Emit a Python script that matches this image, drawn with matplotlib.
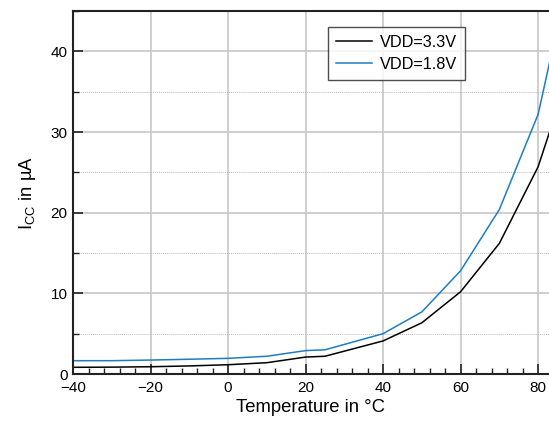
import matplotlib
matplotlib.use("Agg")
import matplotlib.pyplot as plt
from matplotlib.ticker import MultipleLocator

plt.rcParams['font.family'] = ['Liberation Sans', 'DejaVu Sans']
plt.rcParams['mathtext.default'] = 'regular'

temps = [-40, -30, -20, -10, 0, 10, 20, 25, 40, 50, 60, 70, 80, 85]
icc_33 = [0.83, 0.85, 0.9, 1.0, 1.15, 1.4, 2.1, 2.2, 4.1, 6.35, 10.2, 16.2, 25.7, 33.0]
icc_18 = [1.65, 1.65, 1.73, 1.83, 1.94, 2.2, 2.9, 3.0, 5.0, 7.7, 12.8, 20.4, 32.2, 43.1]
labels = ["VDD=3.3V", "VDD=1.8V"]

fig = plt.figure(figsize=(5.49, 4.22), dpi=100)
ax = fig.add_axes([73/549, 1-374/422, 1-73/549, (374-11)/422])

ax.plot(temps, icc_33, color='black', lw=1.1, label=labels[0])
ax.plot(temps, icc_18, color='#1f7cc4', lw=1.1, label=labels[1])

ax.set_xlim(-40, 82.8)
ax.set_ylim(0, 45)
ax.xaxis.set_major_locator(MultipleLocator(20))
ax.xaxis.set_minor_locator(MultipleLocator(4))
ax.yaxis.set_major_locator(MultipleLocator(10))
ax.yaxis.set_minor_locator(MultipleLocator(5))

ax.grid(which='major', color='#cccccc', lw=1.3)
ax.grid(which='minor', axis='y', color='#bbbbbb', lw=0.7, ls=(0, (1, 1)))
ax.set_axisbelow(True)

ax.tick_params(which='major', direction='in', length=7, width=1.2, labelsize=11, color='#222222')
ax.tick_params(axis='x', which='major', pad=5)
ax.tick_params(axis='y', which='major', pad=4)
ax.tick_params(which='minor', direction='in', length=4, width=1.0, color='#222222')

for s in ['left', 'bottom', 'top']:
    ax.spines[s].set_linewidth(1.5)
    ax.spines[s].set_color('#222222')
ax.spines['right'].set_visible(False)

ax.set_xlabel("Temperature in °C", fontsize=13.3, labelpad=3)
ax.set_ylabel("I$_{CC}$ in µA", fontsize=13.3, labelpad=9)

leg = ax.legend(loc='upper left', bbox_to_anchor=((328-73)/476, 1-(27-11)/363),
                frameon=True, fancybox=False, fontsize=11.7, handlelength=2.2,
                borderpad=0.5, labelspacing=0.4, handletextpad=0.5, borderaxespad=0)
leg.get_frame().set_edgecolor('#222222')
leg.get_frame().set_linewidth(1.0)

fig.savefig("out.png", dpi=100)
